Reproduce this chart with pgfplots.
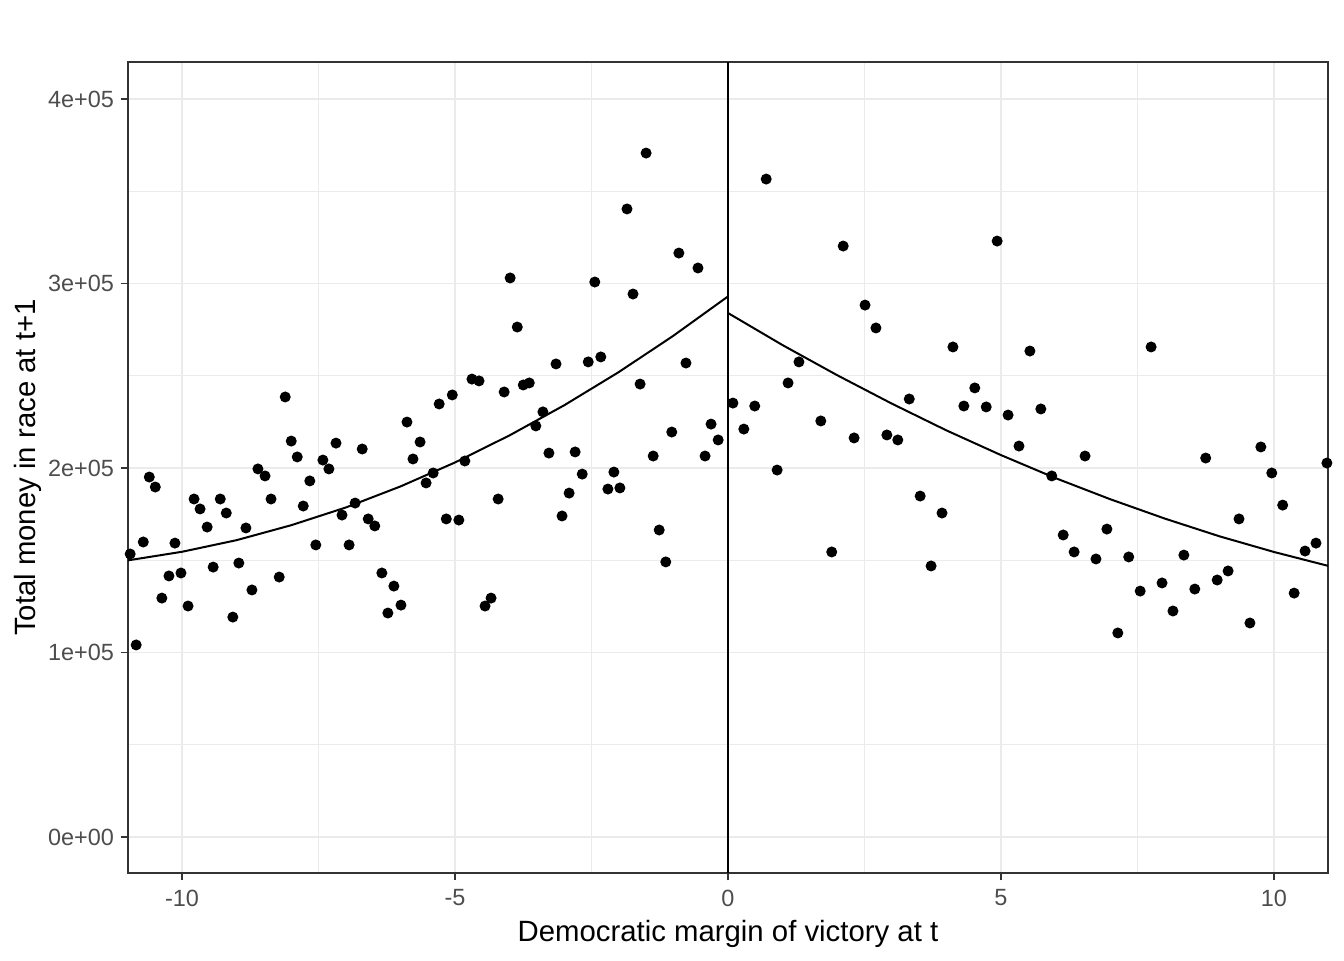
\documentclass[border=0pt]{standalone}
\usepackage{fontspec}
\setmainfont{Liberation Sans}
\usepackage{pgfplots}
\pgfplotsset{compat=1.18}
\definecolor{gridc}{RGB}{235,235,235}
\definecolor{g20}{RGB}{51,51,51}
\definecolor{g30}{RGB}{77,77,77}
\pgfplotstableread{
x y
-10.95 153400
-10.84 104100
-10.71 159900
-10.60 195100
-10.49 189700
-10.37 129500
-10.24 141500
-10.13 159300
-10.02 143100
-9.89 125200
-9.78 183200
-9.67 177800
-9.54 168000
-9.43 146300
-9.30 183200
-9.19 175600
-9.07 119200
-8.96 148500
-8.83 167500
-8.72 133900
-8.61 199500
-8.48 195700
-8.37 183200
-8.22 140900
-8.11 238500
-8.00 214600
-7.89 206000
-7.78 179400
-7.66 193000
-7.55 158300
-7.42 204300
-7.31 199500
-7.18 213500
-7.07 174500
-6.94 158300
-6.83 181000
-6.70 210300
-6.59 172400
-6.47 168600
-6.34 143100
-6.23 121400
-6.12 136000
-5.99 125700
-5.88 224900
-5.77 204900
-5.64 214100
-5.53 191900
-5.40 197300
-5.29 234700
-5.16 172400
-5.05 239600
-4.93 171800
-4.82 203800
-4.69 248200
-4.56 247200
-4.45 125200
-4.34 129500
-4.21 183200
-4.10 241200
-3.99 303000
-3.86 276400
-3.75 245000
-3.64 246100
-3.52 222800
-3.39 230400
-3.28 208100
-3.15 256400
-3.04 174000
-2.91 186400
-2.80 208700
-2.67 196700
-2.56 257500
-2.44 300800
-2.33 260200
-2.20 188600
-2.09 197800
-1.98 189200
-1.85 340400
-1.74 294300
-1.61 245500
-1.50 370700
-1.37 206500
-1.26 166400
-1.14 149100
-1.03 219500
-0.90 316500
-0.77 256900
-0.55 308400
-0.42 206500
-0.31 223800
-0.18 215200
0.09 235200
0.29 221100
0.49 233600
0.70 356600
0.90 198900
1.10 246100
1.30 257500
1.70 225500
1.90 154500
2.11 320300
2.31 216300
2.51 288300
2.71 275900
2.91 217900
3.11 215200
3.32 237400
3.52 184800
3.72 146900
3.92 175600
4.12 265600
4.32 233600
4.52 243400
4.73 233100
4.93 323000
5.13 228700
5.33 211900
5.53 263400
5.73 232000
5.93 195700
6.14 163700
6.34 154500
6.54 206500
6.74 150700
6.94 166900
7.14 110600
7.34 151800
7.55 133300
7.75 265600
7.95 137700
8.15 122500
8.35 152800
8.55 134400
8.75 205400
8.96 139300
9.16 144200
9.36 172400
9.56 116000
9.76 211400
9.96 197300
10.16 179900
10.37 132200
10.57 155000
10.77 159300
10.97 202700
}\pts
\pgfplotstableread{
x y
-11 149900
-10 154600
-9 160900
-8 169000
-7 178600
-6 190000
-5 203000
-4 217700
-3 234000
-2 252000
-1 271700
0 293000
}\leftfit
\pgfplotstableread{
x y
0 284000
1 266600
2 250300
3 234900
4 220400
5 207000
6 194500
7 183100
8 172600
9 163000
10 154500
11 146900
}\rightfit
\begin{document}
\begin{tikzpicture}
\path[use as bounding box] (-48pt,-32.625pt) rectangle (456pt,327.375pt);
\begin{axis}[
  scale only axis, width=450pt, height=304.125pt,
  at={(0,0)}, anchor=south west,
  xmin=-10.99, xmax=10.99, ymin=-19500, ymax=420050,
  axis line style={g20, line width=0.5pt},
  tick style={g20, line width=0.5pt},
  tick align=outside, major tick length=2.75pt, minor tick length=0pt,
  xtick pos=bottom, ytick pos=left,
  xtick={-10,-5,0,5,10}, xticklabels={-10,-5,0,5,10},
  minor xtick={-7.5,-2.5,2.5,7.5},
  ytick={0,100000,200000,300000,400000},
  yticklabels={0e+00,1e+05,2e+05,3e+05,4e+05},
  minor ytick={50000,150000,250000,350000},
  scaled y ticks=false,
  grid=both,
  major grid style={gridc, line width=0.55pt},
  minor grid style={gridc, line width=0.3pt},
  ticklabel style={font=\fontsize{8.8}{10}\selectfont, text=g30},
  yticklabel style={xshift=1pt},
  /pgf/number format/assume math mode=true,
  xlabel={Democratic margin of victory at t},
  ylabel={Total money in race at t+1},
  label style={font=\fontsize{11}{13}\selectfont, text=black},
  xlabel style={at={(axis description cs:0.5,0)}, anchor=north, yshift=-14pt},
  ylabel style={at={(axis description cs:0,0.5)}, anchor=south, yshift=29pt},
  clip=true,
]
\addplot[only marks, mark=*, mark size=1.85pt, black] table[x=x,y=y] {\pts};
\addplot[black, line width=0.75pt] table[x=x,y=y] {\leftfit};
\addplot[black, line width=0.75pt] table[x=x,y=y] {\rightfit};
\addplot[black, line width=0.75pt] coordinates {(0,-19500) (0,420050)};
\end{axis}
\end{tikzpicture}
\end{document}
